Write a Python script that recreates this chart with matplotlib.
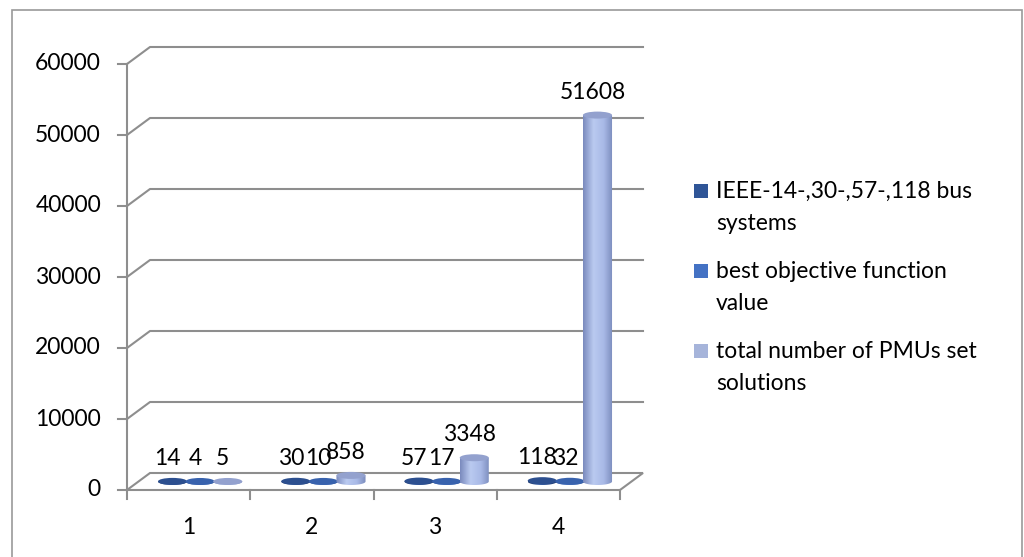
import numpy as np
import matplotlib
matplotlib.use("Agg")
import matplotlib.pyplot as plt
from matplotlib.patches import Polygon, Ellipse, Rectangle
from matplotlib.colors import LinearSegmentedColormap
from matplotlib.transforms import ScaledTranslation, IdentityTransform

plt.rcParams["font.family"] = ["Lato", "DejaVu Sans"]
FS = 16.5

# ---- data ----
categories = ["1", "2", "3", "4"]
bus_systems = [14, 30, 57, 118]
best_objective = [4, 10, 17, 32]
pmu_solutions = [5, 858, 3348, 51608]
series_names = [
    "IEEE-14-,30-,57-,118 bus\nsystems",
    "best objective function\nvalue",
    "total number of PMUs set\nsolutions",
]
y_ticks = [0, 10000, 20000, 30000, 40000, 50000, 60000]

# ---- styling ----
legend_colors = ["#2F5597", "#4472C4", "#A6B4DA"]
body_colors = [
    ["#1C3566", "#3A62AA", "#2A4C8C", "#1A3262"],
    ["#28498E", "#5A86D6", "#4170C0", "#26478A"],
    ["#7A8ABD", "#BACAF0", "#A8B9E6", "#7B8BBC"],
]
top_colors = ["#2C4F8F", "#3862AD", "#93A1CE"]
grid_color = "#8E8E8E"

W, H = 1024, 557
fig = plt.figure(figsize=(W / 100, H / 100), dpi=100)
fig.patch.set_facecolor("white")

# front plane of the 3-D plot box
ax = fig.add_axes([127 / W, (H - 490) / H, 493 / W, 426 / H])
ax.axis("off")

DX, DY = 0.23, 0.17  # depth offset of the back wall, inches


def depth(f):
    return ax.transData + ScaledTranslation(DX * f, DY * f, fig.dpi_scale_trans)


def set_limits():
    ax.set_xlim(0.5, len(categories) + 0.5)
    ax.set_ylim(y_ticks[0], y_ticks[-1])


set_limits()
x0, x1 = 0.5, len(categories) + 0.5
dpx = np.array([DX * 100, DY * 100])

# gridlines on the side and back walls
for v in y_ticks[1:]:
    p_front = ax.transData.transform((x0, v))
    p_back = p_front + dpx
    p_right = ax.transData.transform((x1, v)) + dpx
    xs = [p_front[0], p_back[0], p_right[0]]
    ys = [p_front[1], p_back[1], p_right[1]]
    ax.add_line(plt.Line2D(xs, ys, transform=IdentityTransform(),
                           color=grid_color, lw=1.5, clip_on=False, zorder=1))

# floor
fa = ax.transData.transform([(x0, 0), (x1, 0)])
floor_pts = [fa[0], fa[1], fa[1] + dpx, fa[0] + dpx]
ax.add_patch(Polygon(floor_pts, closed=True, transform=IdentityTransform(),
                     facecolor="white", edgecolor=grid_color, lw=1.5,
                     clip_on=False, zorder=1))

# value axis line, ticks and labels
ax.plot([x0, x0], [y_ticks[0], y_ticks[-1]], color=grid_color, lw=1.5,
        clip_on=False, zorder=2)
label_shift = ScaledTranslation(-0.26, 0, fig.dpi_scale_trans)
for v in y_ticks:
    a = ax.transData.transform((x0, v))
    ax.add_line(plt.Line2D([a[0] - 9, a[0]], [a[1], a[1]],
                           transform=IdentityTransform(), color=grid_color,
                           lw=1.5, clip_on=False))
    ax.text(x0, v, f"{v}", transform=ax.transData + label_shift,
            ha="right", va="center", fontsize=FS, color="black")

# category ticks and labels
for i in range(len(categories) + 1):
    a = ax.transData.transform((x0 + i, 0))
    ax.add_line(plt.Line2D([a[0], a[0]], [a[1], a[1] - 9],
                           transform=IdentityTransform(), color=grid_color,
                           lw=1.5, clip_on=False))
cat_shift = ScaledTranslation(0, -0.37, fig.dpi_scale_trans)
for i, c in enumerate(categories):
    ax.text(i + 1, 0, c, transform=ax.transData + cat_shift,
            ha="center", va="center", fontsize=FS, color="black")

# cylinders
series = [bus_systems, best_objective, pmu_solutions]
n_series = len(series)
spacing = 0.224
width = 0.236
ell_h = 7 / 426 * (y_ticks[-1] - y_ticks[0])
tr_mid = depth(0.5)
label_off = tr_mid + ScaledTranslation(-0.05, 0.23, fig.dpi_scale_trans)


def cylinder(xc, v, colors, top_color, z):
    theta = np.linspace(np.pi, 2 * np.pi, 60)
    xs = xc + width / 2 * np.cos(theta)
    ys = ell_h / 2 * np.sin(theta)
    verts = list(zip(xs, ys)) + [(xc + width / 2, v), (xc - width / 2, v)]
    body = Polygon(verts, closed=True, transform=tr_mid,
                   facecolor="none", edgecolor="none", zorder=z)
    ax.add_patch(body)
    cmap = LinearSegmentedColormap.from_list(
        "cyl", list(zip([0.0, 0.35, 0.7, 1.0], colors)))
    grad = np.linspace(0, 1, 128)[None, :]
    im = ax.imshow(grad, cmap=cmap, aspect="auto", interpolation="bilinear",
                   extent=(xc - width / 2, xc + width / 2, -ell_h / 2, v),
                   transform=tr_mid, zorder=z)
    im.set_clip_path(body)
    ax.add_patch(Ellipse((xc, v), width, ell_h, transform=tr_mid,
                         facecolor=top_color, edgecolor="none",
                         clip_on=False, zorder=z + 0.1))


for j, vals in enumerate(series):
    for i, v in enumerate(vals):
        xc = i + 1 + (j - (n_series - 1) / 2) * spacing
        cylinder(xc, v, body_colors[j], top_colors[j], 3 + j + 0.01 * i)
        ax.text(xc, v, f"{v}", transform=label_off, ha="center",
                va="center", fontsize=FS, color="black", zorder=10)

set_limits()

# legend
for k, name in enumerate(series_names):
    yc = 191 + 80 * k
    fig.patches.append(Rectangle((694 / W, 1 - (yc + 7) / H), 14 / W, 14 / H,
                                 transform=fig.transFigure,
                                 facecolor=legend_colors[k], edgecolor="none"))
    for m, line in enumerate(name.split("\n")):
        fig.text(716 / W, 1 - (yc + 32 * m) / H, line, ha="left",
                 va="center", fontsize=FS, color="black")

# chart border
fig.patches.append(Rectangle((12 / W, -0.05), 1010 / W, 1 - 10 / H + 0.05,
                             transform=fig.transFigure, facecolor="none",
                             edgecolor="#9A9A9A", lw=1.2))

fig.savefig("out.png", dpi=100)
